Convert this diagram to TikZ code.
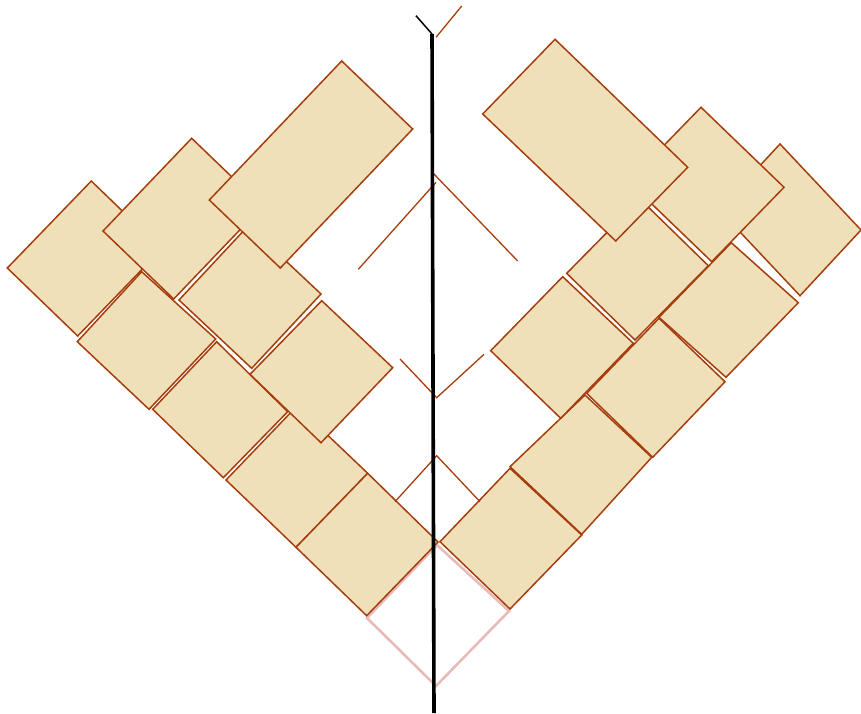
\documentclass[tikz,border=0pt]{standalone}
\usepackage{tikz}
\definecolor{tilefill}{RGB}{240,224,186}
\definecolor{tileedge}{RGB}{165,62,12}
\definecolor{pinkedge}{RGB}{232,186,186}
\tikzset{
  tile/.style={fill=tilefill, draw=tileedge, line width=1.5pt, line join=miter},
  guide/.style={draw=tileedge, line width=1.3pt},
  axis/.style={draw=black, line width=3.6pt},
  ghost/.style={draw=pinkedge, line width=2.6pt, line join=miter}
}
\begin{document}
\begin{tikzpicture}[x=1pt,y=-1pt]
\useasboundingbox (0,0) rectangle (861,713);
% missing square (pink)
\draw[ghost] (437,545) -- (509,611) -- (436,686) -- (367,618) -- cycle;
% ---------------- left tiles ----------------
\draw[tile] (226,480) -- (297,406) -- (367.7,473.3) -- (296,547.3) -- cycle;   % L8
\draw[tile] (296,547.3) -- (367.7,473.3) -- (438,542) -- (366.7,615.7) -- cycle; % L9
\draw[tile] (152.7,409.3) -- (216.7,341.7) -- (287.7,411.7) -- (223.3,477.7) -- cycle; % L7
\draw[tile] (77.3,341.7) -- (141.7,271.7) -- (215.7,339) -- (149,409.3) -- cycle; % L5
\draw[tile] (7.3,268) -- (91.3,181) -- (161.7,249) -- (77.7,336) -- cycle; % L1
\draw[tile] (179,300) -- (248.3,225.7) -- (321,294) -- (251.7,368.3) -- cycle; % L4
\draw[tile] (250,374.3) -- (321.7,300.7) -- (392.7,367.7) -- (321,442.7) -- cycle; % L6
\draw[tile] (103,231) -- (191.7,138.3) -- (262.4,206.3) -- (173.7,299) -- cycle; % L2
\draw[tile] (209.3,200) -- (341.7,61) -- (412.7,129) -- (280.3,268) -- cycle; % L3
% ---------------- right tiles ----------------
\draw[tile] (440,541.7) -- (510,468.3) -- (581.7,535) -- (510,609) -- cycle; % R9
\draw[tile] (510,466.7) -- (585,395) -- (651.7,457.3) -- (581.7,534.3) -- cycle; % R8
\draw[tile] (586.7,393.3) -- (659,318.3) -- (725,381.7) -- (652.7,457.3) -- cycle; % R7
\draw[tile] (490.7,350.7) -- (562.7,276.7) -- (633.3,343.3) -- (560.7,418.3) -- cycle; % R6
\draw[tile] (659,317.3) -- (731.3,242.7) -- (798.3,302.7) -- (726,377.3) -- cycle; % R5
\draw[tile] (566.7,273.3) -- (640,199) -- (708.3,265.7) -- (635,340) -- cycle; % R4
\draw[tile] (719,209.7) -- (780,144) -- (861,230) -- (800,295.7) -- cycle; % R3
\draw[tile] (628.7,181.7) -- (701,107.3) -- (784,187.3) -- (711.7,261.7) -- cycle; % R2
\draw[tile] (482.7,114) -- (555,39.3) -- (687.7,167.3) -- (615.7,241) -- cycle; % R1
% ---------------- guide strokes ----------------
\coordinate (ga1) at (358.3,269.3); \coordinate (ga2) at (436,182.3);
\coordinate (gb1) at (432.3,172.3); \coordinate (gb2) at (517.7,261);
\draw[guide] (ga1) -- (ga2);
\draw[guide] (gb1) -- (gb2);
\coordinate (v1) at (400,359); \coordinate (v2) at (436.7,397.7); \coordinate (v3) at (484,354.3);
\draw[guide] (v1) -- (v2) -- (v3);
\coordinate (w1) at (395,501.7); \coordinate (w2) at (436.7,455.7); \coordinate (w3) at (480,501.7);
\draw[guide] (w1) -- (w2) -- (w3);
\coordinate (t1) at (461.7,6); \coordinate (t2) at (436,37.3);
\draw[guide] (t1) -- (t2);
% ---------------- axis ----------------
\coordinate (axtop) at (432,34); \coordinate (axbot) at (434,713);
\coordinate (tick) at (416,15.7);
\draw[axis] (axtop) -- (axbot);
\draw[draw=black, line width=1.5pt] (tick) -- (axtop);
\end{tikzpicture}
\end{document}
